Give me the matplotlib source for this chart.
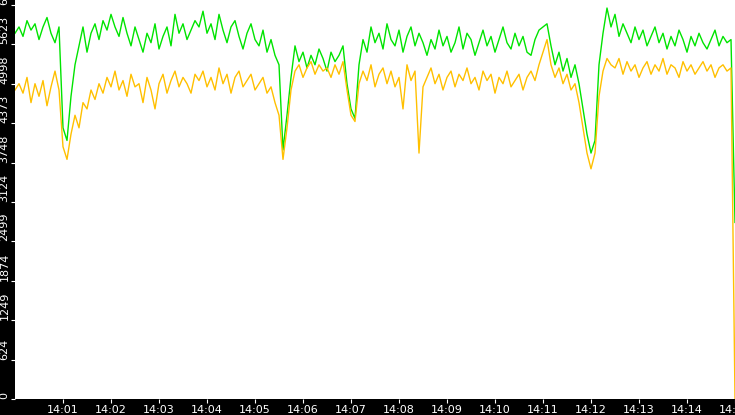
import matplotlib
matplotlib.use("Agg")
import matplotlib.pyplot as plt
import numpy as np

green = [5800,5900,5750,6000,5850,5950,5700,5900,6050,5800,5650,5900,
         4300,4100,
         4800,5300,5600,5900,5500,5800,5950,
         5700,6000,5850,6100,5900,5750,6050,5800,5600,5900,5700,5500,5800,5650,5950,5550,5750,5900,5600,6100,5800,5950,5700,5850,6000,
         5900,6150,5800,5950,5700,6100,5850,5650,5900,6000,5750,5550,5800,5950,5700,5600,5850,5500,5700,5450,5300,
         3950,4500,5100,
         5600,5350,5500,5250,5450,5300,5550,5400,5200,5500,5350,5450,5600,
         5000,4600,4450,
         5300,5700,5500,5900,5650,5800,5550,5950,5700,5600,5850,5500,5750,5900,5600,5800,5650,5450,5700,5550,5850,5600,5750,5500,5650,5900,5550,5800,5700,5450,5650,5850,5600,5750,5500,5700,5900,5650,5550,5800,5600,5750,5500,5450,5700,5850,5900,5950,
         5600,5300,5500,5200,5400,5100,5300,5000,
         4600,4200,3900,4100,
         5300,5800,6200,
         5900,6100,5750,5950,5800,5650,5900,5700,5850,5600,5750,5900,5650,5800,5550,5750,5600,5850,5700,5500,5750,5600,5800,5650,5550,5700,5850,5600,5750,5650,
         5700, 2800]
yellow = [4900,5000,4850,5100,4700,5000,4800,5050,4650,4950,5200,4900,
          4000,3800,
          4200,4500,4300,4700,4600,4900,4750,
          5000,4850,5100,4950,5200,4900,5050,4800,5150,4950,5000,4700,5100,4900,4600,5000,5150,4850,5050,5200,4950,5100,5000,4850,5150,
          5050,5200,4950,5100,4900,5250,5000,5150,4850,5100,5200,4950,5050,5150,4900,5000,5100,4850,4950,4700,4500,
          3800,4300,4900,
          5200,5300,5100,5250,5350,5150,5300,5200,5250,5100,5300,5150,5350,
          4900,4500,4400,
          5000,5200,5050,5300,4950,5150,5250,5000,5200,4950,5100,4600,5300,5050,5200,3900,4950,5100,5250,5000,5150,4900,5100,5200,4950,5150,5050,5250,5000,5100,4900,5200,5050,5150,4850,5100,5000,5200,4950,5050,5150,4900,5100,5200,5050,5300,5500,5700,
          5300,5100,5250,5000,5150,4900,5000,4700,
          4300,3900,3650,3900,
          4800,5200,5400,
          5300,5250,5400,5150,5350,5200,5300,5100,5250,5350,5150,5300,5200,5400,5150,5300,5250,5100,5350,5200,5300,5150,5250,5350,5200,5300,5100,5250,5300,5200,
          5250, 0]

yticks = [0,624,1249,1874,2499,3124,3748,4373,4998,5623,6248]
xtick_labels = ["14:01","14:02","14:03","14:04","14:05","14:06","14:07","14:08","14:09","14:10","14:11","14:12","14:13","14:14","14:15"]

def times(n):
    t = np.linspace(0, 900, n - 1, endpoint=False).tolist()
    return t + [900.0]

fig = plt.figure(figsize=(7.35, 4.15), dpi=100, facecolor="black")
ax = fig.add_axes([15/735, 16/415, 720/735, 399/415])
ax.set_facecolor("white")
ax.plot(times(len(green)), green, color="#00e400", lw=1)
ax.plot(times(len(yellow)), yellow, color="#ffc000", lw=1)
ax.set_xlim(0, 900)
ax.set_ylim(0, 6248*399/394)
for s in ax.spines.values():
    s.set_visible(False)
ax.set_yticks(yticks)
ax.set_yticklabels([str(v) for v in yticks], rotation=90, va="bottom", color="white", fontsize=8)
ax.set_xticks([60*(i+1) for i in range(len(xtick_labels))])
ax.set_xticklabels(xtick_labels, color="white", fontsize=8)
ax.tick_params(axis="both", colors="white", direction="out", length=3, pad=1)
ax.tick_params(axis="x", labelcolor="white")
fig.savefig("out.png", dpi=100, facecolor="black")
